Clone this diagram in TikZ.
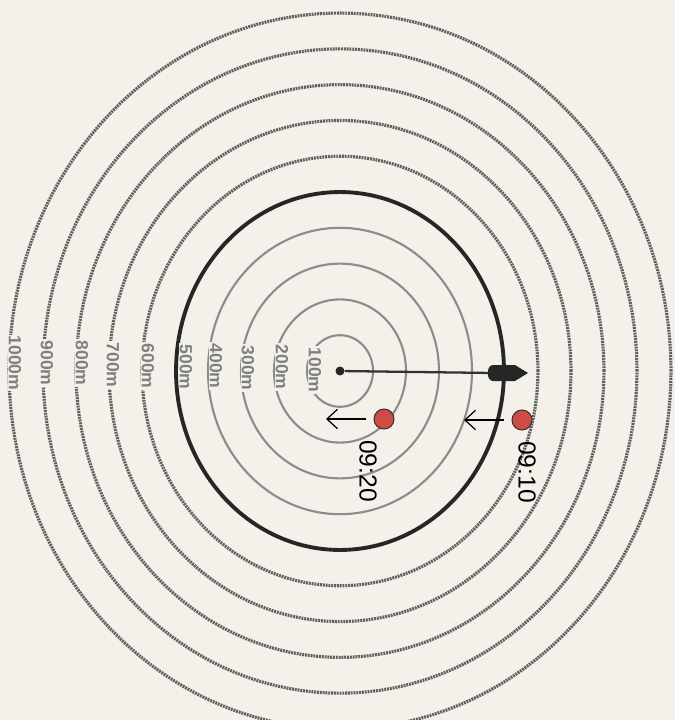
\documentclass[tikz,border=0pt]{standalone}
\usepackage{fontspec}
\setmainfont{Liberation Sans}
\usetikzlibrary{arrows.meta}
\definecolor{paper}{HTML}{F3F1EA}
\definecolor{dotred}{HTML}{CF4B45}

\begin{document}
\begin{tikzpicture}[
  x=0.02cm, y=-0.02cm,
  ring/.style={draw=black!45, line width=1.2pt},
  farring/.style={draw=black!62, line width=1.8pt, dash pattern=on 1.1pt off 0.5pt},
  mainring/.style={draw=black!85, line width=2.2pt},
  dist/.style={rotate=-90, font=\fontsize{10}{11}\selectfont\bfseries,
               text=black!50, fill=paper, inner sep=0.6pt},
  stop/.style={circle, draw=black!80, fill=dotred, line width=0.6pt,
               minimum size=0.4cm, inner sep=0pt},
  time/.style={rotate=-90, font=\fontsize{14}{16}\selectfont},
  arrow/.style={-{Straight Barb[length=6pt, width=11pt]}, line width=0.7pt}
]
\fill[paper] (0,0) rectangle (675,720);
\useasboundingbox (0,0) rectangle (675,720);

% rings
\draw[ring] (340,371) ellipse [x radius=0.66cm, y radius=0.716cm];
\draw[ring] (340,371) ellipse [x radius=1.32cm, y radius=1.432cm];
\draw[ring] (340,371) ellipse [x radius=1.98cm, y radius=2.148cm];
\draw[ring] (340,371) ellipse [x radius=2.64cm, y radius=2.864cm];
\draw[mainring] (340,371) ellipse [x radius=3.28cm, y radius=3.58cm];
\draw[farring] (340,371) ellipse [x radius=3.96cm, y radius=4.296cm];
\draw[farring] (340,371) ellipse [x radius=4.62cm, y radius=5.012cm];
\draw[farring] (340,371) ellipse [x radius=5.28cm, y radius=5.728cm];
\draw[farring] (340,371) ellipse [x radius=5.94cm, y radius=6.444cm];
\draw[farring] (340,371) ellipse [x radius=6.62cm, y radius=7.16cm];

% distance labels
\node[dist] (m100) at (315,370) {100m};
\node[dist] (m200) at (282,367) {200m};
\node[dist] (m300) at (248,368) {300m};
\node[dist] (m400) at (216,366) {400m};
\node[dist] (m500) at (186,367) {500m};
\node[dist] (m600) at (148,366) {600m};
\node[dist] (m700) at (113,365) {700m};
\node[dist] (m800) at (82,363) {800m};
\node[dist] (m900) at (47,363) {900m};
\node[dist] (m1000) at (15,363) {1000m};

% hand
\node[circle, fill=black!85, minimum size=0.18cm, inner sep=0pt] (ctr) at (340,371) {};
\coordinate (car) at (493,373);
\draw[line width=1.3pt, black!80] (ctr) -- (car);
\fill[black!85] (493,365) -- (515,365) -- (528,373) -- (515,381) -- (493,381)
  .. controls (486,381) and (486,365) .. (493,365) -- cycle;

% stops
\node[stop] (d10) at (522,420) {};
\node[stop] (d20) at (384,419) {};
\coordinate (a10) at (464,420);
\coordinate (a20) at (326,419);
\draw[arrow, shorten <=0.14cm] (d10) -- (a10);
\draw[arrow, shorten <=0.14cm] (d20) -- (a20);

\node[time] (t10) at (527,472) {09:10};
\node[time] (t20) at (368,471) {09:20};
\end{tikzpicture}
\end{document}
